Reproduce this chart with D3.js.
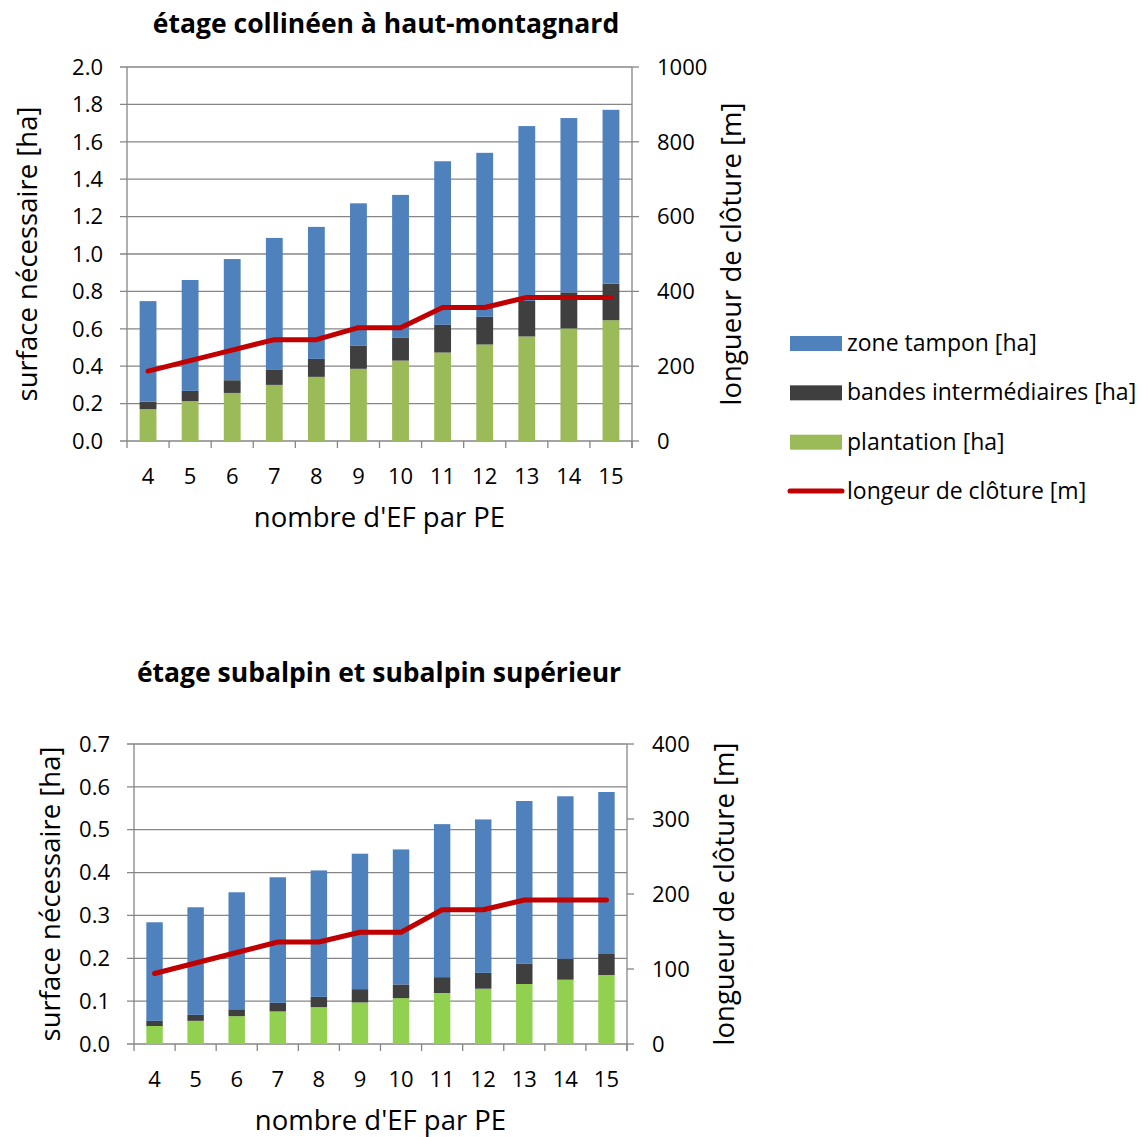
<!DOCTYPE html>
<html>
<head>
<meta charset="utf-8">
<script src="https://cdn.jsdelivr.net/npm/d3@7"></script>
<style>
  body { margin: 0; background: #fff; }
  svg { font-family: "Open Sans", Lato, sans-serif; }
  text { fill: #000; }
</style>
</head>
<body>
<div id="root"></div>
<script>
// catégories (nombre d'EF par PE)
const categories = [4, 5, 6, 7, 8, 9, 10, 11, 12, 13, 14, 15];

// étage collinéen à haut-montagnard
const plantationTop = [0.170, 0.213, 0.257, 0.300, 0.343, 0.386, 0.430, 0.473, 0.516, 0.559, 0.602, 0.646];
const bandesTop     = [0.041, 0.055, 0.068, 0.080, 0.096, 0.125, 0.124, 0.148, 0.148, 0.190, 0.193, 0.195];
const tamponTop     = [0.537, 0.593, 0.648, 0.706, 0.706, 0.760, 0.762, 0.875, 0.877, 0.935, 0.932, 0.930];
const clotureTop    = [187, 215, 243, 271, 271, 303, 303, 357, 357, 384, 384, 384];

// étage subalpin et subalpin supérieur
const plantationBot = [0.042, 0.054, 0.065, 0.076, 0.086, 0.097, 0.107, 0.119, 0.129, 0.140, 0.150, 0.161];
const bandesBot     = [0.012, 0.014, 0.016, 0.020, 0.024, 0.031, 0.032, 0.037, 0.037, 0.048, 0.049, 0.049];
const tamponBot     = [0.230, 0.251, 0.273, 0.293, 0.295, 0.316, 0.315, 0.357, 0.358, 0.379, 0.379, 0.378];
const clotureBot    = [94, 108, 122, 136, 136, 149, 149, 179, 179, 192, 192, 192];

const leftTicksTop  = [0, 0.2, 0.4, 0.6, 0.8, 1.0, 1.2, 1.4, 1.6, 1.8, 2.0];
const rightTicksTop = [0, 200, 400, 600, 800, 1000];
const leftTicksBot  = [0, 0.1, 0.2, 0.3, 0.4, 0.5, 0.6, 0.7];
const rightTicksBot = [0, 100, 200, 300, 400];

const seriesNames = ["zone tampon [ha]", "bandes intermédiaires [ha]", "plantation [ha]", "longeur de clôture [m]"];

const width = 1142, height = 1137;
const gridColor = "#868686";

const svg = d3.select("#root").append("svg")
    .attr("width", width)
    .attr("height", height);

function drawChart(cfg) {
    const g = svg.append("g");
    const x = d3.scaleBand()
        .domain(categories)
        .range([cfg.left, cfg.right])
        .paddingInner(0.6)
        .paddingOuter(0.3);
    const step = (cfg.right - cfg.left) / categories.length;
    const yL = d3.scaleLinear().domain([0, cfg.leftMax]).range([cfg.bottom, cfg.top]);
    const yR = d3.scaleLinear().domain([0, cfg.rightMax]).range([cfg.bottom, cfg.top]);

    // grille horizontale
    g.selectAll(".grid")
        .data(cfg.leftTicks)
        .enter()
        .append("line")
        .attr("x1", cfg.left - 7)
        .attr("x2", cfg.right)
        .attr("y1", d => yL(d))
        .attr("y2", d => yL(d))
        .attr("stroke", gridColor)
        .attr("stroke-width", 1.3);

    // barres empilées
    const stackData = categories.map((c, i) => ({
        cat: c,
        plantation: cfg.plantation[i],
        bandes: cfg.bandes[i],
        tampon: cfg.tampon[i]
    }));
    const stack = d3.stack().keys(["plantation", "bandes", "tampon"]);
    const layers = stack(stackData);
    const colors = { plantation: cfg.green, bandes: "#3f3f3f", tampon: "#4f81bd" };

    g.selectAll(".layer")
        .data(layers)
        .enter()
        .append("g")
        .attr("fill", d => colors[d.key])
        .selectAll("rect")
        .data(d => d)
        .enter()
        .append("rect")
        .attr("x", d => x(d.data.cat))
        .attr("width", x.bandwidth())
        .attr("y", d => yL(d[1]))
        .attr("height", d => yL(d[0]) - yL(d[1]));

    // axes verticaux
    g.append("line")
        .attr("x1", cfg.left).attr("x2", cfg.left)
        .attr("y1", cfg.top).attr("y2", cfg.bottom)
        .attr("stroke", gridColor).attr("stroke-width", 1.3);
    g.append("line")
        .attr("x1", cfg.right).attr("x2", cfg.right)
        .attr("y1", cfg.top).attr("y2", cfg.bottom + 7)
        .attr("stroke", gridColor).attr("stroke-width", 1.3);

    // graduations axe x
    g.selectAll(".xtick")
        .data(d3.range(categories.length + 1))
        .enter()
        .append("line")
        .attr("x1", d => cfg.left + d * step)
        .attr("x2", d => cfg.left + d * step)
        .attr("y1", cfg.bottom)
        .attr("y2", cfg.bottom + 7)
        .attr("stroke", gridColor).attr("stroke-width", 1.3);

    // graduations axe droit
    g.selectAll(".rtick")
        .data(cfg.rightTicks)
        .enter()
        .append("line")
        .attr("x1", cfg.right)
        .attr("x2", cfg.right + 7)
        .attr("y1", d => yR(d))
        .attr("y2", d => yR(d))
        .attr("stroke", gridColor).attr("stroke-width", 1.3);

    // ligne clôture
    const line = d3.line()
        .x((d, i) => x(categories[i]) + x.bandwidth() / 2)
        .y(d => yR(d));
    g.append("path")
        .datum(cfg.cloture)
        .attr("d", line)
        .attr("fill", "none")
        .attr("stroke", "#c00000")
        .attr("stroke-width", 5)
        .attr("stroke-linecap", "round")
        .attr("stroke-linejoin", "round");

    // libellés
    g.selectAll(".lt")
        .data(cfg.leftTicks)
        .enter()
        .append("text")
        .attr("x", cfg.left - 24)
        .attr("y", d => yL(d))
        .attr("dy", "0.35em")
        .attr("text-anchor", "end")
        .style("font-size", "22px")
        .text(d => d.toFixed(1));

    g.selectAll(".rt")
        .data(cfg.rightTicks)
        .enter()
        .append("text")
        .attr("x", cfg.right + 25)
        .attr("y", d => yR(d))
        .attr("dy", "0.35em")
        .style("font-size", "22px")
        .text(d => d);

    g.selectAll(".xt")
        .data(categories)
        .enter()
        .append("text")
        .attr("x", d => x(d) + x.bandwidth() / 2)
        .attr("y", cfg.bottom + 35)
        .attr("dy", "0.35em")
        .attr("text-anchor", "middle")
        .style("font-size", "22px")
        .text(d => d);

    g.append("text")
        .attr("x", cfg.titleX)
        .attr("y", cfg.titleY)
        .attr("dy", "0.35em")
        .attr("text-anchor", "middle")
        .style("font-size", "26.5px")
        .style("font-weight", "bold")
        .text(cfg.title);

    g.append("text")
        .attr("x", (cfg.left + cfg.right) / 2)
        .attr("y", cfg.bottom + 76)
        .attr("dy", "0.35em")
        .attr("text-anchor", "middle")
        .style("font-size", "27.5px")
        .text("nombre d'EF par PE");

    const midY = (cfg.top + cfg.bottom) / 2;
    g.append("text")
        .attr("transform", "translate(" + cfg.leftTitleX + "," + midY + ") rotate(-90)")
        .attr("dy", "0.35em")
        .attr("text-anchor", "middle")
        .style("font-size", "27.5px")
        .text("surface nécessaire [ha]");

    g.append("text")
        .attr("transform", "translate(" + cfg.rightTitleX + "," + midY + ") rotate(-90)")
        .attr("dy", "0.35em")
        .attr("text-anchor", "middle")
        .style("font-size", "27.5px")
        .text("longueur de clôture [m]");
}

drawChart({
    title: "étage collinéen à haut-montagnard",
    titleX: 386, titleY: 24,
    left: 127, right: 632, top: 67, bottom: 441,
    leftMax: 2.0, rightMax: 1000,
    leftTicks: leftTicksTop, rightTicks: rightTicksTop,
    plantation: plantationTop, bandes: bandesTop, tampon: tamponTop, cloture: clotureTop,
    green: "#9bbb59",
    leftTitleX: 27, rightTitleX: 731
});

drawChart({
    title: "étage subalpin et subalpin supérieur",
    titleX: 379, titleY: 673,
    left: 134, right: 627, top: 744, bottom: 1044,
    leftMax: 0.7, rightMax: 400,
    leftTicks: leftTicksBot, rightTicks: rightTicksBot,
    plantation: plantationBot, bandes: bandesBot, tampon: tamponBot, cloture: clotureBot,
    green: "#92d050",
    leftTitleX: 50, rightTitleX: 724
});

// légende
const legendColors = ["#4f81bd", "#3f3f3f", "#9bbb59", "#c00000"];
const legend = svg.append("g");
const legendY = d3.scalePoint().domain(seriesNames).range([343, 491]);
const items = legend.selectAll(".item")
    .data(seriesNames)
    .enter()
    .append("g")
    .attr("transform", d => "translate(0," + legendY(d) + ")");
items.filter((d, i) => i < 3)
    .append("rect")
    .attr("x", 790).attr("y", -7)
    .attr("width", 52).attr("height", 15)
    .attr("fill", (d, i) => legendColors[i]);
items.filter((d, i) => i === 3)
    .append("line")
    .attr("x1", 790).attr("x2", 842)
    .attr("stroke", legendColors[3])
    .attr("stroke-width", 5)
    .attr("stroke-linecap", "round");
items.append("text")
    .attr("x", 847)
    .attr("dy", "0.35em")
    .style("font-size", "23px")
    .text(d => d);
</script>
</body>
</html>
